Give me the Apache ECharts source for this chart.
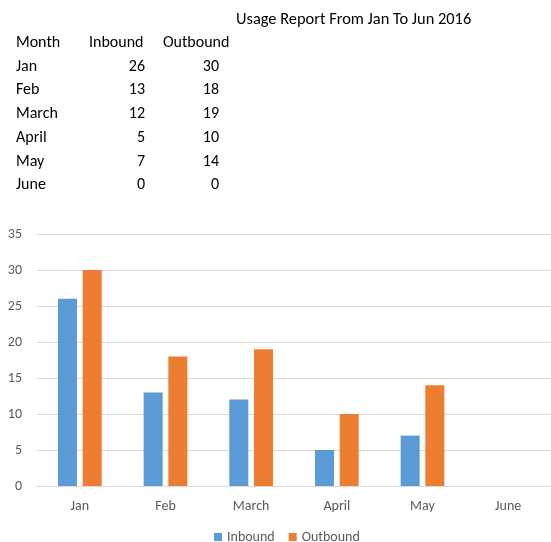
<!DOCTYPE html>
<html>
<head>
<meta charset="utf-8">
<script src="https://cdn.jsdelivr.net/npm/echarts@6/dist/echarts.min.js"></script>
<style>
  html, body { margin: 0; padding: 0; background: #fff; }
  #chart { width: 551px; height: 542px; }
</style>
</head>
<body>
<div id="chart"></div>
<script>
const months = ['Jan', 'Feb', 'March', 'April', 'May', 'June']
const inbound = [26, 13, 12, 5, 7, 0]
const outbound = [30, 18, 19, 10, 14, 0]
const reportTitle = 'Usage Report From Jan To Jun 2016'
const tableHeader = ['Month', 'Inbound', 'Outbound']

const FONT = 'Calibri, Carlito, Lato, sans-serif'
const textColor = '#000'
const tableFont = '16px ' + FONT

// table drawn as text elements
const rowTop = 43
const rowStep = 23.7
const tableEls = []
tableEls.push({
  type: 'text', x: 236, y: 20,
  style: { text: reportTitle, font: '16.4px ' + FONT, fill: textColor, textVerticalAlign: 'middle' }
})
tableHeader.forEach((h, i) => {
  tableEls.push({
    type: 'text',
    x: [16, 89, 163][i], y: rowTop,
    style: { text: h, font: tableFont, fill: textColor, textVerticalAlign: 'middle' }
  })
})
months.forEach((m, r) => {
  const y = rowTop + rowStep * (r + 1)
  tableEls.push({ type: 'text', x: 16, y, style: { text: m, font: tableFont, fill: textColor, textVerticalAlign: 'middle' } })
  tableEls.push({ type: 'text', x: 145, y, style: { text: String(inbound[r]), font: tableFont, fill: textColor, textAlign: 'right', textVerticalAlign: 'middle' } })
  tableEls.push({ type: 'text', x: 219, y, style: { text: String(outbound[r]), font: tableFont, fill: textColor, textAlign: 'right', textVerticalAlign: 'middle' } })
})

const chart = echarts.init(document.getElementById('chart'))
chart.setOption({
  animation: false,
  textStyle: { fontFamily: FONT },
  graphic: tableEls,
  grid: { left: 37, right: 0, top: 234, bottom: 56 },
  legend: {
    bottom: -7,
    left: 209,
    icon: 'rect',
    itemWidth: 8,
    itemHeight: 8,
    itemGap: 14,
    textStyle: { color: '#595959', fontSize: 14, fontFamily: FONT }
  },
  xAxis: {
    type: 'category',
    data: months,
    axisLine: { lineStyle: { color: '#D9D9D9' } },
    axisTick: { show: false },
    axisLabel: { color: '#595959', fontSize: 14, fontFamily: FONT, margin: 13 }
  },
  yAxis: {
    type: 'value',
    min: 0,
    max: 35,
    interval: 5,
    axisLine: { show: false },
    axisTick: { show: false },
    axisLabel: { color: '#595959', fontSize: 14, fontFamily: FONT, margin: 15 },
    splitLine: { lineStyle: { color: '#D9D9D9' } }
  },
  series: [
    {
      name: 'Inbound', type: 'bar', data: inbound,
      barWidth: 19, barGap: '30%',
      itemStyle: { color: '#5B9BD5' }
    },
    {
      name: 'Outbound', type: 'bar', data: outbound,
      barWidth: 19,
      itemStyle: { color: '#ED7D31' }
    }
  ]
})
</script>
</body>
</html>
